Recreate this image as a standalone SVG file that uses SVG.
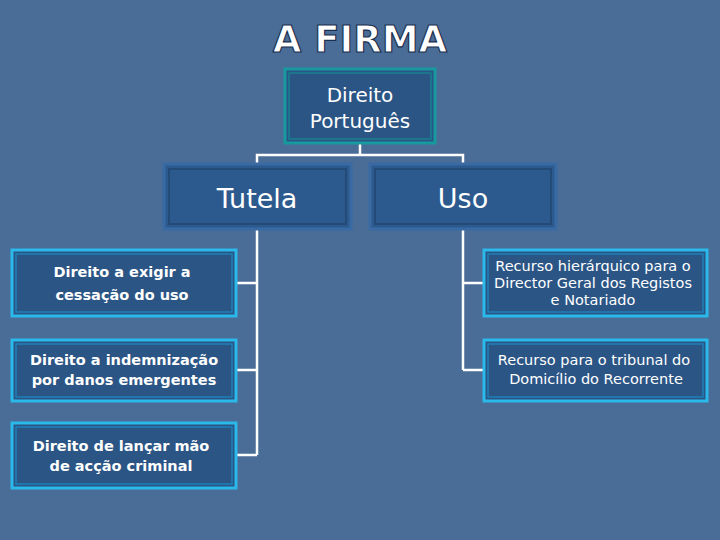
<svg xmlns="http://www.w3.org/2000/svg" width="720" height="540" viewBox="0 0 720 540">
<style>
.bg{fill:#4a6d97}
.lvl1{fill:#2d5a8e;stroke:#3a6aa3;stroke-width:3}
.lvl1i{fill:none;stroke:#244a78;stroke-width:2}
.leaf{fill:#2b5585;stroke:#2bb8ea;stroke-width:3}
.leafi{fill:none;stroke:#1e80b8;stroke-width:1.5}
.con{stroke:#fff;stroke-width:2.5;fill:none}
.t{font-family:"DejaVu Sans",Verdana,sans-serif;fill:#fff;text-anchor:middle}
.b{font-weight:bold;font-size:14.5px}
.r{font-size:14.5px}
</style>
<rect class="bg" width="720" height="540"/>
<text x="360" y="52" class="t" style="font-size:37px;font-weight:bold;stroke:#1a3050;stroke-width:1.2">A FIRMA</text>
<g id="connectors">
<path class="con" d="M360 144V155M257 163V155H463V163M257 230V455M237 283H257M237 370H257M237 455H257M463 230V370M463 283H483M463 370H483"/>
</g>
<g id="root">
<rect x="285" y="69" width="150" height="74" fill="#2b5585" stroke="#179a9e" stroke-width="3"/>
<rect x="289" y="73" width="142" height="66" fill="none" stroke="#1a7f90" stroke-width="1.5"/>
<text class="t" x="360" y="102" style="font-size:20px">Direito</text>
<text class="t" x="360" y="128" style="font-size:20px">Português</text>
</g>
<g id="tutela">
<rect class="lvl1" x="164" y="164" width="187" height="65"/>
<rect class="lvl1i" x="169" y="169" width="177" height="55"/>
<text class="t" x="257" y="208" style="font-size:27px">Tutela</text>
</g>
<g id="uso">
<rect class="lvl1" x="370" y="164" width="186" height="65"/>
<rect class="lvl1i" x="375" y="169" width="176" height="55"/>
<text class="t" x="463" y="208" style="font-size:27px">Uso</text>
</g>
<g id="l1">
<rect class="leaf" x="12" y="250" width="224" height="66"/>
<rect class="leafi" x="16" y="254" width="216" height="58"/>
<text class="t b" x="122" y="277">Direito a exigir a</text>
<text class="t b" x="122" y="300">cessação do uso</text>
</g>
<g id="l2">
<rect class="leaf" x="12" y="340" width="224" height="61"/>
<rect class="leafi" x="16" y="344" width="216" height="53"/>
<text class="t b" x="124" y="365">Direito a indemnização</text>
<text class="t b" x="124" y="385">por danos emergentes</text>
</g>
<g id="l3">
<rect class="leaf" x="12" y="423" width="224" height="65"/>
<rect class="leafi" x="16" y="427" width="216" height="57"/>
<text class="t b" x="121" y="451">Direito de lançar mão</text>
<text class="t b" x="121" y="471">de acção criminal</text>
</g>
<g id="r1">
<rect class="leaf" x="484" y="250" width="223" height="66"/>
<rect class="leafi" x="488" y="254" width="215" height="58"/>
<text class="t r" x="593" y="271">Recurso hierárquico para o</text>
<text class="t r" x="593" y="288">Director Geral dos Registos</text>
<text class="t r" x="593" y="305">e Notariado</text>
</g>
<g id="r2">
<rect class="leaf" x="484" y="340" width="223" height="61"/>
<rect class="leafi" x="488" y="344" width="215" height="53"/>
<text class="t r" x="594" y="365">Recurso para o tribunal do</text>
<text class="t r" x="596" y="384">Domicílio do Recorrente</text>
</g>
</svg>
